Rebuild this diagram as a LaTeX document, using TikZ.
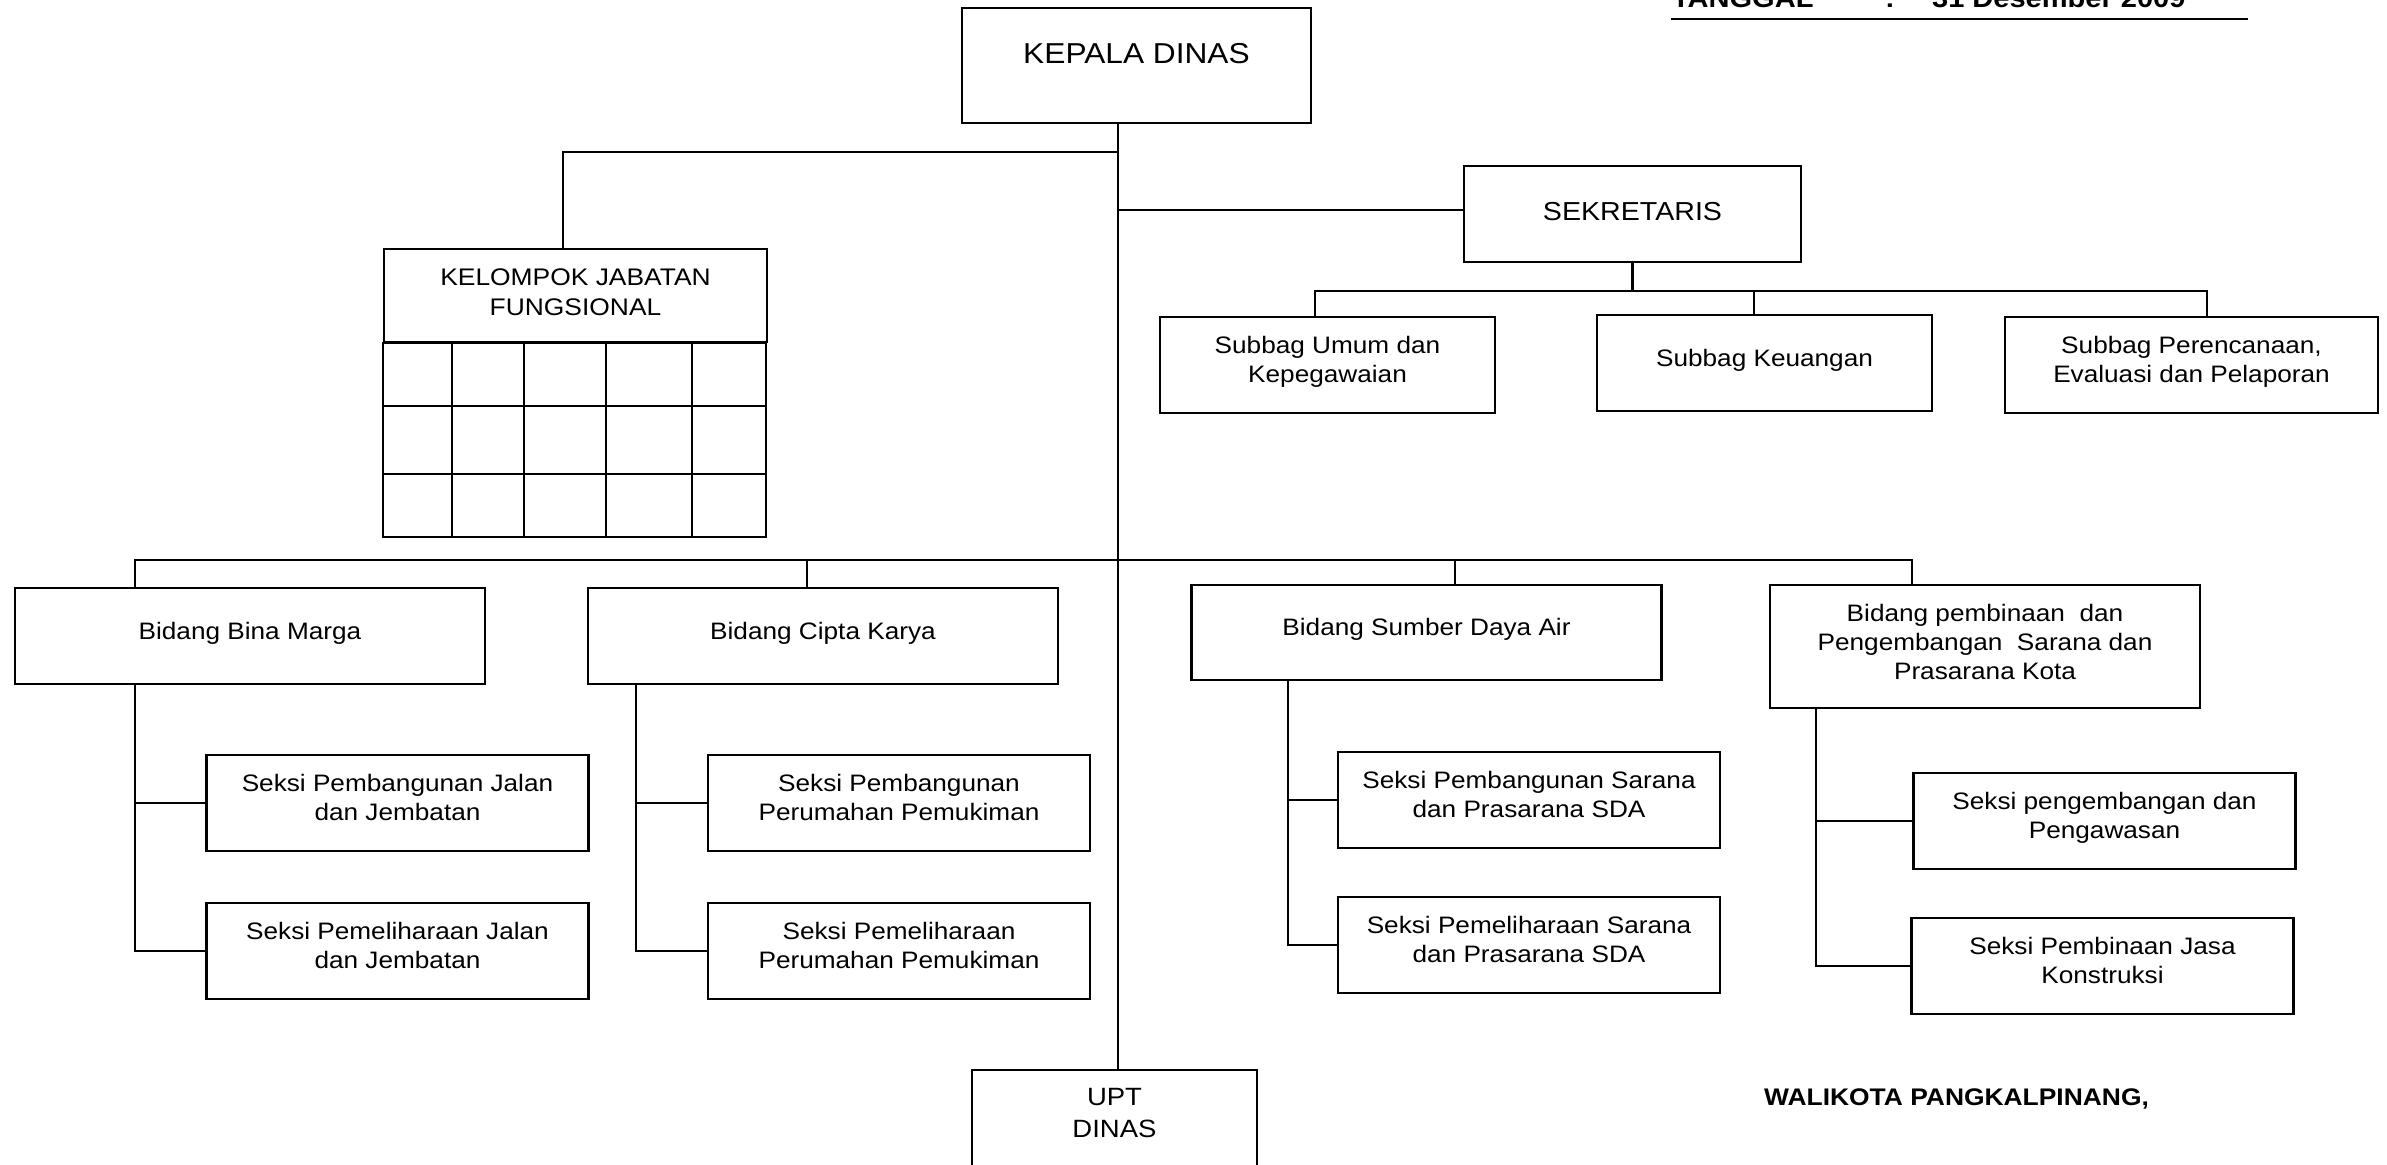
\documentclass[tikz,border=0pt]{standalone}
\usepackage{fontspec}
\setmainfont{Liberation Sans}[FakeStretch=1.1]

\begin{document}
\begin{tikzpicture}[x=0.5pt, y=-0.5pt, line width=1.1pt,
	kotak/.style={draw, inner sep=0pt, align=center, font=\fontsize{11.9}{14.3}\selectfont},
	seksi/.style={kotak, minimum width=191pt, minimum height=48pt, text depth=5.5pt},
	bidang/.style={kotak, minimum width=235pt, minimum height=48pt, text depth=5.3pt},
	tebal/.style={anchor=base west, inner sep=0pt, font=\bfseries\fontsize{12}{14}\selectfont}]
		\clip (0,0) rectangle (2387,1164);
		\fill[white] (0,0) rectangle (2387,1164);

		% pimpinan
		\node[kotak, minimum width=174.5pt, minimum height=57.5pt, text depth=11.8pt, font=\fontsize{14.4}{16}\selectfont] (kadis) at (1136.5,65.5) {KEPALA DINAS};
		\node[kotak, minimum width=168.5pt, minimum height=48pt, text depth=3pt, font=\fontsize{13}{15}\selectfont] (sekre) at (1632.5,214) {SEKRETARIS};

		% subbagian
		\node[kotak, minimum width=167.5pt, minimum height=48pt, text depth=5.5pt] (umum) at (1327.5,365) {Subbag Umum dan\\Kepegawaian};
		\node[kotak, minimum width=167.5pt, minimum height=48pt, text depth=5.3pt] (keu) at (1764.5,363) {Subbag Keuangan};
		\node[kotak, minimum width=186.5pt, minimum height=48pt, text depth=5.5pt] (renc) at (2191.5,365) {Subbag Perencanaan,\\Evaluasi dan Pelaporan};

		% kelompok jabatan fungsional
		\node[kotak, minimum width=191.5pt, minimum height=46.5pt, text depth=3.5pt, font=\fontsize{12}{15}\selectfont] (kjf) at (575.5,295.5) {KELOMPOK JABATAN\\FUNGSIONAL};
		\draw (kjf.south west) rectangle ++(383,194);
		\foreach \y in {406,474} \draw (384,\y) -- (767,\y);
		\foreach \x in {452,524,606,692} \draw (\x,342) -- (\x,536);

		% bidang
		\node[bidang] (bm) at (250,636) {Bidang Bina Marga};
		\node[bidang] (ck) at (823,636) {Bidang Cipta Karya};
		\node[bidang, minimum height=47.5pt] (sda) at (1426.5,632.5) {Bidang Sumber Daya Air};
		\node[kotak, minimum width=215pt, minimum height=61.5pt, text depth=4.6pt] (pb) at (1985,646.5) {Bidang pembinaan\ \ dan\\Pengembangan\ \ Sarana dan\\Prasarana Kota};

		% seksi
		\node[seksi] (bm1) at (397.5,803) {Seksi Pembangunan Jalan\\dan Jembatan};
		\node[seksi] (bm2) at (397.5,951) {Seksi Pemeliharaan Jalan\\dan Jembatan};
		\node[seksi] (ck1) at (899,803) {Seksi Pembangunan\\Perumahan Pemukiman};
		\node[seksi] (ck2) at (899,951) {Seksi Pemeliharaan\\Perumahan Pemukiman};
		\node[seksi] (sda1) at (1529,800) {Seksi Pembangunan Sarana\\dan Prasarana SDA};
		\node[seksi] (sda2) at (1529,945) {Seksi Pemeliharaan Sarana\\dan Prasarana SDA};
		\node[seksi] (pb1) at (2104.5,821) {Seksi pengembangan dan\\Pengawasan};
		\node[seksi] (pb2) at (2102.5,966) {Seksi Pembinaan Jasa\\Konstruksi};

		% upt
		\node[kotak, anchor=north, minimum width=142.5pt, minimum height=70pt] (upt) at (1114.5,1069) {};
		\node[anchor=north, inner sep=0pt, align=center, font=\fontsize{12.5}{16}\selectfont] (upttulis) at ([yshift=-9.3pt]upt.north) {UPT\\DINAS};

		% garis
		\coordinate (pusat) at (1118,0);
		\coordinate (kjfx) at (563,152);
		\coordinate (busS) at (0,291);
		\coordinate (busB) at (0,560);
		\coordinate (umumx) at (1315,0);
		\coordinate (keux) at (1754,0);
		\coordinate (rencx) at (2207,0);
		\coordinate (bmx) at (135,0);
		\coordinate (ckx) at (807,0);
		\coordinate (sdax) at (1455,0);
		\coordinate (pbx) at (1912,0);
		\coordinate (ckkiri) at (636,0);
		\coordinate (sdakiri) at (1288,0);
		\coordinate (pbkiri) at (1816,0);

		\draw (kadis.south -| pusat) -- (upt.north -| pusat);
		\draw (pusat |- kjfx) -| (kjf.north -| kjfx);
		\draw (pusat |- 0,210) -- (sekre.west |- 0,210);

		\draw (sekre.south) -- (sekre.south |- busS);
		\draw (umum.north -| umumx) |- (rencx |- busS) -- (renc.north -| rencx);
		\draw (keu.north -| keux) -- (keux |- busS);

		\draw (bm.north -| bmx) |- (pbx |- busB) -- (pb.north -| pbx);
		\draw (ck.north -| ckx) -- (ckx |- busB);
		\draw (sda.north -| sdax) -- (sdax |- busB);

		\draw (bm.south -| bmx) |- (bm1.west);
		\draw (bm.south -| bmx) |- (bm2.west);
		\draw (ck.south -| ckkiri) |- (ck1.west);
		\draw (ck.south -| ckkiri) |- (ck2.west);
		\draw (sda.south -| sdakiri) |- (sda1.west);
		\draw (sda.south -| sdakiri) |- (sda2.west);
		\draw (pb.south -| pbkiri) |- (pb1.west);
		\draw (pb.south -| pbkiri) |- (pb2.west);

		% tanda tangan
		\node[tebal] (walikota) at (1763,1105) {WALIKOTA PANGKALPINANG,};
		\node[tebal, font=\bfseries\fontsize{13.2}{15}\selectfont] (tanggal) at (1671,7) {TANGGAL};
		\node[tebal, font=\bfseries\fontsize{13.2}{15}\selectfont] (titik) at (1884,7) {:};
		\node[tebal, font=\bfseries\fontsize{13.2}{15}\selectfont] (tgl) at (1931,7) {31 Desember 2009};
		\draw[line width=1.4pt] (tanggal.base west |- 0,19) -- (2248,19);
\end{tikzpicture}
\end{document}
